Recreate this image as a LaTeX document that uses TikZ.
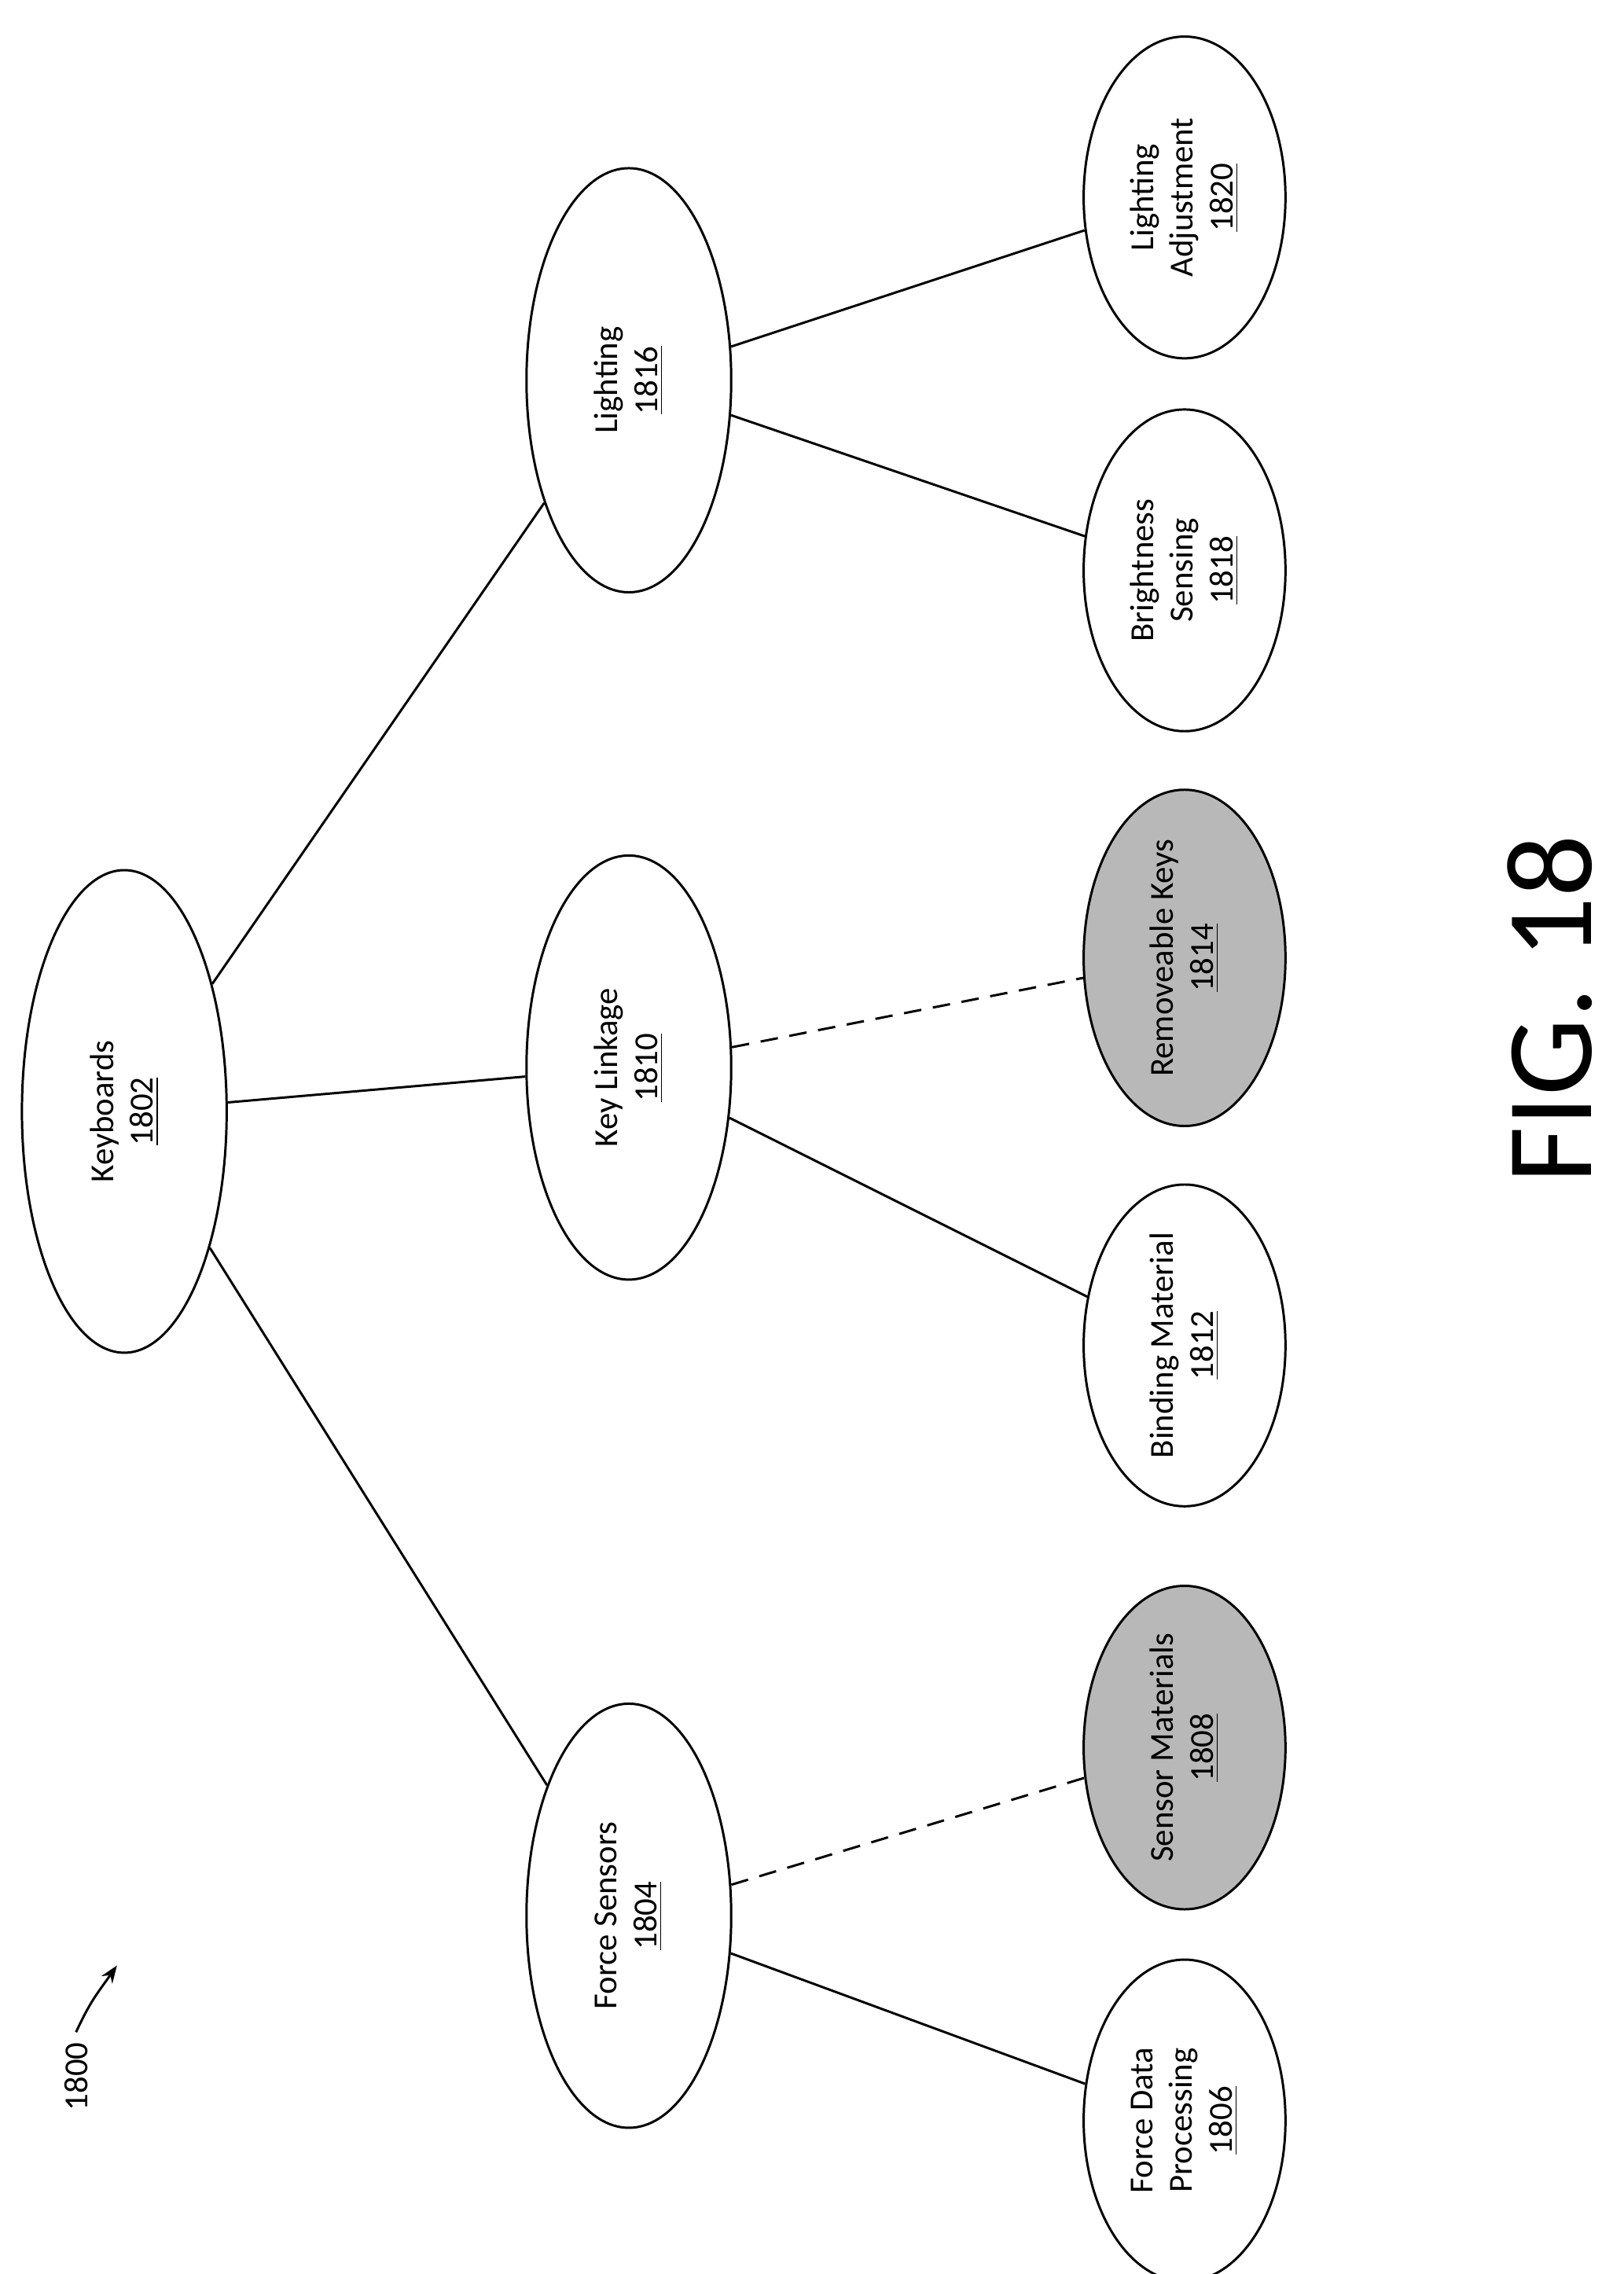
\documentclass[tikz,border=0pt]{standalone}
\usepackage{fontspec}
\setmainfont{Carlito}
\usetikzlibrary{shapes.geometric,arrows.meta}
\begin{document}
\begin{tikzpicture}[x=1pt,y=1pt,
  ov/.style={draw,ellipse,line width=0.8pt,rotate=90,align=center,inner sep=0pt,font=\fontsize{11.5}{13.5}\selectfont,fill=white},
  big/.style={ov,minimum width=165pt,minimum height=70pt},
  mid/.style={ov,minimum width=145pt,minimum height=70pt},
  leaf/.style={ov,minimum width=110pt,minimum height=69pt},
  shade/.style={fill=black!28},
  ln/.style={line width=0.8pt},
  dl/.style={ln,dashed,dash pattern=on 6pt off 4pt}]
\path[use as bounding box,fill=white] (0,0) rectangle (555,-777.5);
\node[big] (k) at (42.5,-380) {Keyboards\\\underline{1802}};
\node[mid] (l) at (215,-130) {Lighting\\\underline{1816}};
\node[mid] (kl) at (215,-365) {Key Linkage\\\underline{1810}};
\node[mid] (fs) at (215,-655) {Force Sensors\\\underline{1804}};
\node[leaf] (la) at (405,-67.5) {Lighting\\Adjustment\\\underline{1820}};
\node[leaf] (bs) at (405,-195) {Brightness\\Sensing\\\underline{1818}};
\node[leaf,shade] (rk) at (405,-327.5) {Removeable Keys\\\underline{1814}};
\node[leaf] (bm) at (405,-460) {Binding Material\\\underline{1812}};
\node[leaf,shade] (sm) at (405,-597.5) {Sensor Materials\\\underline{1808}};
\node[leaf] (fd) at (405,-725) {Force Data\\Processing\\\underline{1806}};
\draw[ln] (k) -- (l);
\draw[ln] (k) -- (kl);
\draw[ln] (k) -- (fs);
\draw[ln] (l) -- (la);
\draw[ln] (l) -- (bs);
\draw[dl] (kl) -- (rk);
\draw[ln] (kl) -- (bm);
\draw[dl] (fs) -- (sm);
\draw[ln] (fs) -- (fd);
\node[rotate=90,font=\fontsize{42}{48}\selectfont] (fig) at (530,-345) {FIG. 18};
\node[rotate=90,font=\fontsize{11.5}{13}\selectfont] (n) at (26,-710) {1800};
\coordinate (a) at (40,-672);
\draw[ln,-{Stealth[length=6pt]}] (n.east) .. controls (31,-684) and (33,-682) .. (a);
\end{tikzpicture}
\end{document}
